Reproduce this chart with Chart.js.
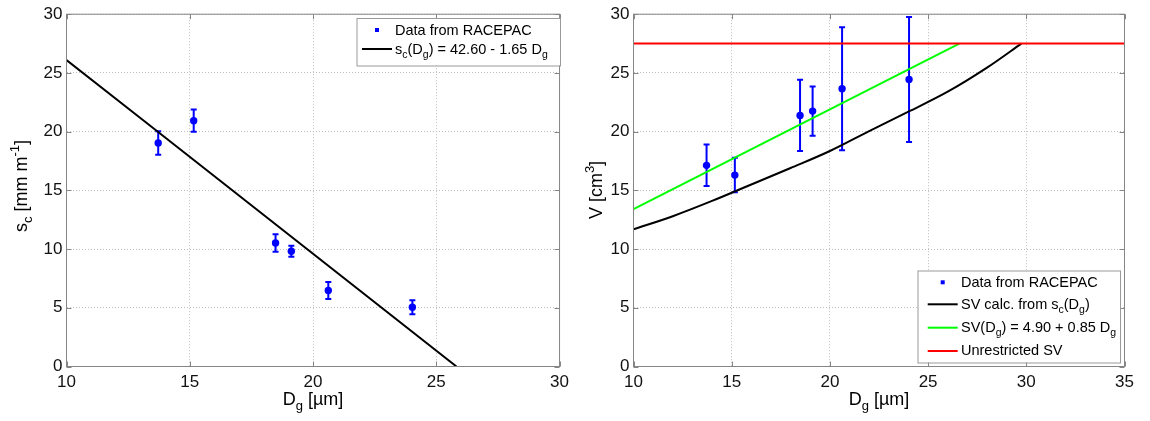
<!DOCTYPE html>
<html>
<head>
<meta charset="utf-8">
<script src="https://cdn.jsdelivr.net/npm/chart.js@4.4.1/dist/chart.umd.min.js"></script>
<style>
  html, body { margin: 0; padding: 0; background: #fff; width: 1150px; height: 421px; overflow: hidden; }
  canvas { position: absolute; top: 0; }
  #scPanel { left: 0; }
  #svPanel { left: 575px; }
</style>
</head>
<body>
<canvas id="scPanel" width="575" height="421"></canvas>
<canvas id="svPanel" width="575" height="421"></canvas>
<script>
// Geometric mean diameter of each RACEPAC case [µm]
const dgMeasured = [13.72, 15.16, 18.48, 19.12, 20.62, 24.03];

// Left panel: s_c [mm m^-1] with its uncertainty
const scMeasured = [19.03, 20.93, 10.52, 9.81, 6.47, 5.05];
const scError    = [1.00, 0.95, 0.75, 0.47, 0.73, 0.60];

// Linear fit s_c(D_g) = 42.60 - 1.65 D_g
const scFitIntercept = 42.60;
const scFitSlope = -1.65;

// Right panel: volume V [cm^3] with its uncertainty
const svMeasured = [17.13, 16.30, 21.38, 21.75, 23.65, 24.44];
const svError    = [1.77, 1.47, 3.03, 2.10, 5.23, 5.33];

// SV calculated from s_c(D_g)
const svCalcDg = [10, 12, 14, 16, 18, 20, 22, 24, 26, 28, 29.75];
const svCalcV  = [11.68, 12.8, 14.1, 15.5, 16.9, 18.35, 20.05, 21.7, 23.4, 25.45, 27.5];

// Linear fit SV(D_g) = 4.90 + 0.85 D_g, and the unrestricted SV level
const svFitIntercept = 4.90;
const svFitSlope = 0.85;
const svUnrestricted = 27.5;

// Axis ranges and tick labels
const scXTicks = [10, 15, 20, 25, 30];
const svXTicks = [10, 15, 20, 25, 30, 35];
const yTicks   = [0, 5, 10, 15, 20, 25, 30];

const FONT = '"Liberation Sans", Arial, Helvetica, sans-serif';
const BLUE = '#0000ff';
const FRAME = '#858585';
const font = (s) => s + 'px ' + FONT;

// Rich text with sub/superscripts
function richWidth(ctx, segs, base, small) {
  let w = 0;
  segs.forEach(s => { ctx.font = font(s.k ? small : base); w += ctx.measureText(s.t).width; });
  return w;
}
function drawRich(ctx, segs, x, y, base, small, centered) {
  let cx = centered ? x - richWidth(ctx, segs, base, small) / 2 : x;
  ctx.textAlign = 'left';
  ctx.textBaseline = 'alphabetic';
  segs.forEach(s => {
    ctx.font = font(s.k ? small : base);
    const dy = s.k === 'sub' ? base * 0.28 : (s.k === 'sup' ? -base * 0.42 : 0);
    ctx.fillText(s.t, cx, y + dy);
    cx += ctx.measureText(s.t).width;
  });
}

// Vertical error bars with caps, drawn under the markers
const errorBars = {
  id: 'errorBars',
  beforeDatasetsDraw(chart, args, o) {
    const { ctx, scales: { x, y } } = chart;
    ctx.save();
    ctx.strokeStyle = BLUE;
    ctx.lineWidth = 2;
    o.xs.forEach((xv, i) => {
      const px = x.getPixelForValue(xv);
      const top = y.getPixelForValue(o.ys[i] + o.err[i]);
      const bot = y.getPixelForValue(o.ys[i] - o.err[i]);
      ctx.beginPath();
      ctx.moveTo(px, top); ctx.lineTo(px, bot);
      ctx.moveTo(px - 3, top); ctx.lineTo(px + 3, top);
      ctx.moveTo(px - 3, bot); ctx.lineTo(px + 3, bot);
      ctx.stroke();
    });
    ctx.restore();
  }
};

// Box around the axes with inward tick marks on all four sides
const axesBox = {
  id: 'axesBox',
  afterDatasetsDraw(chart) {
    const { ctx, chartArea: a, scales: { x, y } } = chart;
    ctx.save();
    ctx.strokeStyle = FRAME;
    ctx.lineWidth = 1;
    ctx.strokeRect(a.left, a.top, a.right - a.left, a.bottom - a.top);
    ctx.beginPath();
    x.ticks.forEach(t => {
      const px = Math.round(x.getPixelForValue(t.value)) + 0.5;
      ctx.moveTo(px, a.bottom); ctx.lineTo(px, a.bottom - 5);
      ctx.moveTo(px, a.top); ctx.lineTo(px, a.top + 5);
    });
    y.ticks.forEach(t => {
      const py = Math.round(y.getPixelForValue(t.value)) + 0.5;
      ctx.moveTo(a.left, py); ctx.lineTo(a.left + 5, py);
      ctx.moveTo(a.right, py); ctx.lineTo(a.right - 5, py);
    });
    ctx.stroke();
    ctx.restore();
  }
};

// Axis titles and legend box
const annotations = {
  id: 'annotations',
  afterDraw(chart, args, o) {
    const { ctx, chartArea: a } = chart;
    ctx.save();
    ctx.fillStyle = '#000';
    drawRich(ctx, o.xTitle, (a.left + a.right) / 2, 405, 18, 13, true);
    ctx.save();
    ctx.translate(o.yTitleX, o.yTitleY);
    ctx.rotate(-Math.PI / 2);
    drawRich(ctx, o.yTitle, 0, 0, 18, 13, true);
    ctx.restore();

    const L = o.legend;
    ctx.fillStyle = '#fff';
    ctx.fillRect(L.x, L.y, L.w, L.h);
    ctx.strokeStyle = '#9a9a9a';
    ctx.lineWidth = 1;
    ctx.strokeRect(L.x + 0.5, L.y + 0.5, L.w, L.h);
    L.rows.forEach(r => {
      if (r.marker) {
        ctx.fillStyle = BLUE;
        ctx.fillRect(L.sampleX + 13, r.y - 2, 4, 4);
      } else {
        ctx.strokeStyle = r.color;
        ctx.lineWidth = 2;
        ctx.beginPath();
        ctx.moveTo(L.sampleX, r.y);
        ctx.lineTo(L.sampleX + 30, r.y);
        ctx.stroke();
      }
      ctx.fillStyle = '#000';
      drawRich(ctx, r.text, L.textX, r.base, 14.5, 10.5, false);
    });
    ctx.restore();
  }
};

function axisOptions(ticks, width, isY) {
  return {
    type: 'linear',
    min: ticks[0],
    max: ticks[ticks.length - 1],
    afterBuildTicks(scale) { scale.ticks = ticks.map(v => ({ value: v })); },
    afterFit(scale) { if (isY) scale.width = width; else scale.height = width; },
    grid: { color: '#bdbdbd', lineWidth: 1, drawTicks: false },
    border: { display: false, dash: [1, 2] },
    ticks: { font: { family: FONT, size: 17 }, color: '#111', padding: isY ? 4 : 6 }
  };
}

function baseOptions(xTicks, yWidth, rightPad, extra) {
  return {
    animation: false,
    responsive: false,
    devicePixelRatio: 1,
    layout: { padding: { top: 13.5, right: rightPad, left: 0, bottom: 0 } },
    scales: { x: axisOptions(xTicks, 54.5, false), y: axisOptions(yTicks, yWidth, true) },
    plugins: Object.assign({ legend: { display: false }, tooltip: { enabled: false } }, extra)
  };
}

const pts = (xs, ys) => xs.map((v, i) => ({ x: v, y: ys[i] }));
const markerSet = (ys) => ({
  data: pts(dgMeasured, ys), showLine: false, order: 5,
  pointStyle: 'circle', pointRadius: 3.7, backgroundColor: BLUE, borderColor: BLUE, borderWidth: 0
});
const lineSet = (data, color, order) => ({
  data, showLine: true, order, borderColor: color, borderWidth: 2, pointRadius: 0,
  fill: false, cubicInterpolationMode: 'monotone'
});

// s_c panel
const scZero = -scFitIntercept / scFitSlope;
new Chart(document.getElementById('scPanel'), {
  type: 'scatter',
  data: { datasets: [
    markerSet(scMeasured),
    lineSet([{ x: 10, y: scFitIntercept + scFitSlope * 10 }, { x: scZero, y: 0 }], '#000', 1)
  ] },
  options: baseOptions(scXTicks, 66.5, 10.5, {
    errorBars: { xs: dgMeasured, ys: scMeasured, err: scError },
    annotations: {
      xTitle: [{ t: 'D' }, { t: 'g', k: 'sub' }, { t: ' [µm]' }],
      yTitle: [{ t: 's' }, { t: 'c', k: 'sub' }, { t: ' [mm m' }, { t: '-1', k: 'sup' }, { t: ']' }],
      yTitleX: 27, yTitleY: 186,
      legend: { x: 356.5, y: 18, w: 203.5, h: 47.5, sampleX: 362, textX: 395, rows: [
        { marker: true, y: 30, base: 35, text: [{ t: 'Data from RACEPAC' }] },
        { color: '#000', y: 49, base: 53.5, text: [
          { t: 's' }, { t: 'c', k: 'sub' }, { t: '(D' }, { t: 'g', k: 'sub' },
          { t: ') = 42.60 - 1.65 D' }, { t: 'g', k: 'sub' }] }
      ] }
    }
  }),
  plugins: [errorBars, axesBox, annotations]
});

// Volume panel
const svFitEnd = (svUnrestricted - svFitIntercept) / svFitSlope;
new Chart(document.getElementById('svPanel'), {
  type: 'scatter',
  data: { datasets: [
    markerSet(svMeasured),
    lineSet(pts(svCalcDg, svCalcV), '#000', 3),
    lineSet([{ x: 10, y: svFitIntercept + svFitSlope * 10 }, { x: svFitEnd, y: svUnrestricted }], '#00ff00', 2),
    lineSet([{ x: 10, y: svUnrestricted }, { x: 35, y: svUnrestricted }], '#ff0000', 1)
  ] },
  options: baseOptions(svXTicks, 58.5, 25.5, {
    errorBars: { xs: dgMeasured, ys: svMeasured, err: svError },
    annotations: {
      xTitle: [{ t: 'D' }, { t: 'g', k: 'sub' }, { t: ' [µm]' }],
      yTitle: [{ t: 'V [cm' }, { t: '3', k: 'sup' }, { t: ']' }],
      yTitleX: 26.7, yTitleY: 190,
      legend: { x: 342.5, y: 270.5, w: 202.5, h: 92, sampleX: 352.7, textX: 386, rows: [
        { marker: true, y: 282.3, base: 287.3, text: [{ t: 'Data from RACEPAC' }] },
        { color: '#000', y: 304.3, base: 309, text: [
          { t: 'SV calc. from s' }, { t: 'c', k: 'sub' }, { t: '(D' }, { t: 'g', k: 'sub' }, { t: ')' }] },
        { color: '#00ff00', y: 327.7, base: 331.7, text: [
          { t: 'SV(D' }, { t: 'g', k: 'sub' }, { t: ') = 4.90 + 0.85 D' }, { t: 'g', k: 'sub' }] },
        { color: '#ff0000', y: 351, base: 355, text: [{ t: 'Unrestricted SV' }] }
      ] }
    }
  }),
  plugins: [errorBars, axesBox, annotations]
});
</script>
</body>
</html>
